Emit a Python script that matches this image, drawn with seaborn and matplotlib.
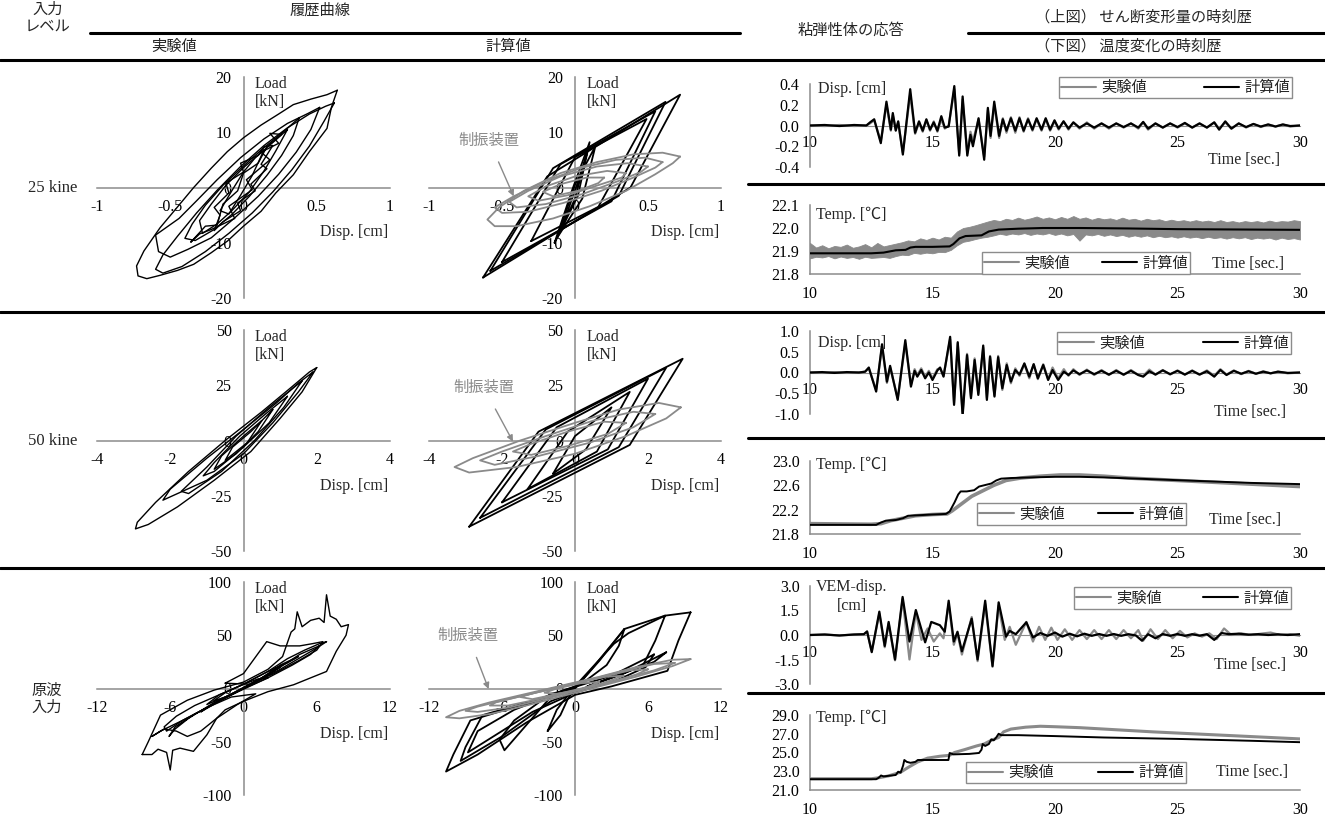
import numpy as np
import matplotlib.pyplot as plt
import seaborn as sns
from matplotlib.lines import Line2D

sns.set_theme(style="white")
plt.rcParams['font.family'] = ['Liberation Serif', 'Noto Sans CJK JP']
JP = ['Noto Sans CJK JP', 'DejaVu Sans']
GRAY = '#8a8a8a'
AX_GRAY = '#8c8c8c'
W, H = 1325, 819

# ---------------- data: hysteresis loops (disp [cm], load [kN]) ----------------
r1_exp_loops = [
    [[0.64, 17.6], [0.6, 14.5], [0.57, 10.7], [0.45, 6.5], [0.34, 2.3], [0.22, -1.0], [0.12, -4.3], [0.0, -7.0],
     [-0.11, -9.7], [-0.22, -11.8], [-0.34, -13.9], [-0.45, -15.0], [-0.57, -15.9], [-0.66, -16.5], [-0.72, -16.0],
     [-0.73, -14.2], [-0.68, -11.5], [-0.57, -7.3], [-0.45, -3.5], [-0.34, 0.0], [-0.22, 3.5], [-0.11, 6.5],
     [0.0, 9.0], [0.12, 11.3], [0.24, 13.3], [0.34, 15.0], [0.46, 16.0], [0.57, 16.8], [0.64, 17.6]],
    [[0.62, 15.3], [0.55, 12.0], [0.45, 7.5], [0.33, 3.2], [0.2, -0.8], [0.06, -4.6], [-0.1, -8.3], [-0.26, -11.6],
     [-0.42, -14.3], [-0.55, -15.5], [-0.6, -14.8], [-0.55, -12.2], [-0.45, -8.8], [-0.32, -4.6], [-0.18, -0.5],
     [-0.02, 3.8], [0.14, 7.6], [0.3, 10.8], [0.45, 13.3], [0.56, 14.7], [0.62, 15.3]],
    [[0.52, 14.5], [0.46, 10.5], [0.36, 6.4], [0.24, 2.4], [0.1, -1.6], [-0.06, -5.5], [-0.22, -9.1], [-0.38, -11.2],
     [-0.5, -12.6], [-0.58, -11.6], [-0.6, -8.6], [-0.44, -5.6], [-0.32, -2.4], [-0.18, 1.4], [-0.02, 5.4],
     [0.14, 8.8], [0.3, 11.6], [0.44, 13.4], [0.52, 14.5]],
    [[0.38, 12.6], [0.34, 9.4], [0.26, 5.8], [0.16, 2.2], [0.04, -1.6], [-0.08, -4.9], [-0.2, -7.6], [-0.33, -9.6],
     [-0.4, -9.2], [-0.35, -6.6], [-0.26, -3.2], [-0.14, 0.4], [0.0, 3.9], [0.13, 7.0], [0.26, 9.8], [0.38, 12.6]],
    [[0.3, 10.5], [0.22, 6.6], [0.14, 3.0], [0.04, -0.8], [-0.08, -4.2], [-0.18, -6.6], [-0.28, -8.3], [-0.3, -6.0],
     [-0.22, -3.0], [-0.12, 0.4], [0.0, 3.6], [0.12, 6.3], [0.22, 8.6], [0.3, 10.5]],
    [[0.2, 7.6], [0.12, 4.2], [0.16, 3.4], [0.05, 0.6], [0.08, -0.6], [-0.04, -2.8], [-0.02, -4.2], [-0.14, -6.2],
     [-0.2, -7.8], [-0.16, -5.0], [-0.2, -3.6], [-0.1, -1.0], [-0.12, 0.8], [0.0, 2.8], [-0.02, 4.4], [0.1, 5.8],
     [0.14, 7.4], [0.2, 7.6]],
    [[0.14, 6.8], [0.06, 2.2], [-0.02, -1.4], [-0.1, -4.8], [-0.16, -4.2], [-0.08, -0.6], [0.0, 2.8], [0.08, 5.4],
     [0.14, 6.8]],
    [[0.26, 9.6], [0.18, 9.8], [0.24, 8.0], [0.12, 6.4], [0.18, 5.0], [0.02, 1.4], [0.06, -0.4], [-0.1, -3.4],
     [-0.06, -5.6], [-0.22, -7.6], [-0.3, -8.4], [-0.36, -9.9], [-0.26, -7.0], [-0.18, -6.8], [-0.14, -3.0],
     [-0.04, -0.6], [0.0, 2.6], [0.1, 4.4], [0.16, 7.4], [0.26, 9.6]],
]
r1_calc_frame = [
    [[-0.63, -16.3], [-0.19, 2.0], [0.72, 16.8], [0.38, 0.0], [-0.63, -16.3]],
    [[-0.58, -15.1], [-0.15, 3.5], [0.62, 15.5], [0.3, -1.5], [-0.58, -15.1]],
    [[-0.5, -13.5], [-0.1, 4.2], [0.55, 13.8], [0.25, -2.5], [-0.5, -13.5]],
    [[-0.3, -9.7], [0.0, 5.5], [0.49, 12.4], [0.16, -3.5], [-0.3, -9.7]],
    [[-0.14, -10.0], [-0.02, -0.5], [0.1, 8.2], [0.02, -1.5], [-0.14, -10.0]],
    [[-0.12, -9.0], [0.0, 0.5], [0.14, 7.5], [0.05, -2.0], [-0.12, -9.0]],
    [[-0.1, -8.0], [0.02, 1.0], [0.08, 6.0], [0.0, -2.0], [-0.1, -8.0]],
]
r1_calc_damper = [
    [[0.72, 5.6], [0.6, 6.3], [0.4, 6.0], [0.15, 4.6], [-0.1, 2.6], [-0.35, -0.6], [-0.52, -3.6], [-0.6, -5.8],
     [-0.55, -7.0], [-0.4, -7.0], [-0.15, -5.6], [0.1, -3.4], [0.35, -0.6], [0.55, 2.4], [0.67, 4.4], [0.72, 5.6]],
    [[0.6, 4.6], [0.48, 5.4], [0.28, 5.0], [0.05, 3.6], [-0.2, 1.2], [-0.42, -1.6], [-0.55, -3.6], [-0.5, -4.6],
     [-0.32, -4.4], [-0.08, -2.8], [0.18, -0.6], [0.4, 1.8], [0.55, 3.6], [0.6, 4.6]],
    [[0.5, 3.8], [0.36, 4.4], [0.15, 3.8], [-0.1, 2.0], [-0.32, -0.6], [-0.45, -2.6], [-0.4, -3.6], [-0.2, -3.0],
     [0.05, -1.2], [0.3, 1.2], [0.45, 2.8], [0.5, 3.8]],
    [[0.35, 2.6], [0.22, 3.0], [0.0, 2.0], [-0.2, 0.2], [-0.32, -1.6], [-0.25, -2.4], [-0.05, -1.4], [0.18, 0.6],
     [0.32, 1.8], [0.35, 2.6]],
    [[0.2, 1.8], [0.08, 1.8], [-0.1, 0.6], [-0.22, -0.8], [-0.15, -1.6], [0.02, -0.6], [0.16, 0.8], [0.2, 1.8]],
]

r2_exp_loops = [
    [[2.0, 33], [1.6, 22], [1.0, 10], [0.2, -5], [-0.8, -18], [-1.8, -30], [-2.6, -38], [-2.95, -40], [-2.9, -37],
     [-2.4, -28], [-1.5, -14], [-0.5, 0], [0.5, 13], [1.3, 24], [1.8, 31], [2.0, 33]],
    [[1.9, 31], [1.5, 22], [0.8, 8], [0.0, -6], [-1.0, -18], [-1.8, -24], [-2.2, -27], [-2.0, -22], [-1.0, -8],
     [0.0, 5], [0.9, 17], [1.5, 26], [1.9, 31]],
    [[1.6, 27], [1.1, 15], [0.3, 0], [-0.6, -14], [-1.5, -24], [-1.7, -23], [-1.0, -12], [-0.2, 2], [0.7, 15],
     [1.3, 23], [1.6, 27]],
    [[1.2, 20], [0.7, 8], [0.0, -3], [-0.8, -14], [-1.1, -16], [-0.8, -10], [-0.1, 2], [0.6, 12], [1.2, 20]],
    [[0.8, 14], [0.4, 4], [-0.2, -6], [-0.8, -13], [-0.6, -7], [0.0, 2], [0.5, 9], [0.8, 14]],
    [[0.5, 9], [0.1, -1], [-0.5, -9], [-0.3, -3], [0.2, 4], [0.5, 9]],
]
r2_calc_frame = [
    [[-2.9, -39], [-1.0, 4], [2.95, 37], [1.5, -2], [-2.9, -39]],
    [[-2.6, -35], [-0.8, 5], [2.5, 33], [1.2, -3], [-2.6, -35]],
    [[-2.0, -28], [-0.5, 6], [2.0, 28], [0.9, -4], [-2.0, -28]],
    [[-1.3, -22], [-0.2, 4], [1.5, 22], [0.6, -5], [-1.3, -22]],
    [[-0.6, -15], [0.0, 2], [1.0, 15], [0.3, -4], [-0.6, -15]],
]
r2_calc_damper = [
    [[2.9, 15], [2.3, 17], [1.2, 14], [0.0, 8], [-1.5, 0], [-2.8, -8], [-3.3, -12], [-2.9, -14.5], [-1.6, -12],
     [0.0, -6], [1.4, 2], [2.5, 10], [2.9, 15]],
    [[2.2, 12], [1.6, 13], [0.5, 9], [-0.8, 2], [-2.0, -5], [-2.6, -9], [-2.2, -11], [-1.0, -7], [0.4, -1],
     [1.6, 6], [2.2, 12]],
    [[1.4, 8], [0.8, 8.5], [-0.2, 4], [-1.2, -1.5], [-1.7, -5], [-1.2, -6.5], [-0.2, -2.5], [0.9, 3], [1.4, 8]],
]

r3_exp_loops = [
    [[-8.3, -62], [-7.8, -50], [-6.8, -25], [-4.6, -11], [-2.4, -1.5], [0.0, 6], [2.0, 18], [3.2, 30], [3.9, 53],
     [4.2, 56], [4.4, 72], [4.8, 58], [5.5, 64], [6.2, 66], [6.6, 62], [6.8, 88], [7.1, 68], [7.6, 65], [8.0, 58],
     [8.6, 60], [8.4, 50], [7.6, 35], [6.8, 16], [5.5, 10], [4.1, 3.5], [2.0, -3], [0.0, -12], [-1.5, -20],
     [-2.2, -28], [-3.0, -43.5], [-4.1, -59], [-5.2, -56], [-5.8, -58], [-6.0, -76.5], [-6.3, -60], [-7.0, -57],
     [-7.5, -62], [-8.3, -62]],
    [[6.8, 44], [6.0, 38], [4.5, 28], [3.0, 18], [1.0, 6], [-1.0, -6], [-3.0, -18], [-5.0, -30], [-6.3, -40],
     [-6.5, -36], [-5.5, -26], [-4.0, -16], [-2.0, -6], [0.0, 4], [2.0, 16], [3.6, 28], [5.0, 36], [6.2, 42],
     [6.8, 44]],
    [[6.2, 40], [5.5, 32], [4.0, 22], [2.0, 10], [0.0, 0], [-2.0, -12], [-4.0, -24], [-5.6, -36], [-6.1, -45],
     [-5.6, -38], [-4.5, -28], [-2.8, -16], [-0.8, -4], [1.2, 8], [3.0, 20], [4.6, 32], [6.2, 40]],
    [[-1.5, 5], [0.0, 14], [1.9, 44], [3.0, 40], [4.6, 40], [5.6, 42], [6.5, 44], [6.0, 36], [4.5, 26], [2.5, 14],
     [0.5, 4], [-1.5, 5]],
    [[-7.5, -45], [-6.5, -38], [-5.5, -40], [-4.6, -45], [-3.5, -40], [-2.2, -28], [-0.5, -15], [1.0, -5],
     [-1.0, -8], [-3.0, -18], [-5.0, -30], [-6.8, -40], [-7.5, -45]],
    [[3.0, 20], [1.5, 10], [0.0, 0], [-2.0, -12], [-3.5, -22], [-2.5, -14], [-0.8, -4], [0.8, 6], [2.2, 14], [3.0, 20]],
    [[4.5, 30], [3.0, 22], [1.0, 6], [-1.5, -8], [-3.0, -15], [-2.0, -6], [0.0, 4], [2.0, 16], [3.6, 24], [4.5, 30]],
    [[2.0, 10], [0.5, 2], [-1.0, -6], [-2.5, -12], [-1.5, -4], [0.0, 4], [1.2, 9], [2.0, 10]],
]
r3_calc_frame = [
    [[9.5, 71.5], [8.5, 45], [7.6, 16.6], [3.0, 2.0], [0.0, -6.0], [-4.0, -32], [-8.0, -62], [-10.6, -78],
     [-10.0, -62], [-8.6, -30], [-4.0, -14], [0.0, 0.0], [2.0, 26], [4.06, 55.9], [7.4, 68.4], [9.5, 71.5]],
    [[7.4, 68.4], [6.6, 45], [5.6, 22], [2.0, 6], [-2.0, -12], [-6.0, -45], [-9.4, -68], [-9.0, -55], [-7.6, -25],
     [-3.0, -10], [0.0, 2], [3.2, 42], [4.4, 52], [7.4, 68.4]],
    [[4.06, 55.9], [3.6, 40], [2.6, 22], [0.5, 4], [-2.0, -8], [-5.8, -58], [-6.2, -48], [-5.0, -30], [-2.0, -5],
     [0.0, 0], [1.5, 20], [4.06, 55.9]],
    [[6.5, 32], [5.8, 20], [3.5, 8], [0.0, -4], [-3.5, -22], [-8.8, -60], [-8.0, -40], [-5.0, -20], [-1.0, -2],
     [3.0, 12], [6.5, 32]],
    [[-2.25, -40], [-1.5, -20], [-0.5, -5], [0.0, 0], [-0.6, -10], [-1.2, -25], [-2.25, -40]],
    [[7.5, 34], [6.5, 25], [3.0, 10], [1.0, 2], [4.0, 14], [7.5, 34]],
]
r3_calc_damper = [
    [[9.5, 27.6], [8.0, 27], [5.0, 20], [2.0, 11], [-1.0, 3], [-4.0, -5], [-7.0, -13], [-9.5, -21], [-10.6, -27],
     [-9.5, -28], [-7.0, -24], [-4.0, -16], [-1.0, -7], [2.0, 2], [5.0, 11], [8.0, 21], [9.5, 27.6]],
    [[8.2, 24], [6.5, 23], [3.5, 15], [0.5, 6], [-2.5, -2], [-5.5, -10], [-8.0, -17], [-9.0, -21], [-8.0, -22],
     [-5.5, -18], [-2.5, -10], [0.5, -1], [3.5, 8], [6.5, 17], [8.2, 24]],
    [[6.0, 18], [4.5, 17], [2.0, 10], [-1.0, 2], [-4.0, -6], [-6.5, -13], [-7.0, -16], [-5.5, -16], [-3.0, -10],
     [0.0, -2], [3.0, 6], [5.0, 13], [6.0, 18]],
    [[4.0, 12], [2.5, 11], [0.0, 5], [-3.0, -3], [-4.5, -8], [-3.5, -10], [-1.0, -4], [2.0, 4], [4.0, 12]],
    [[2.0, 6], [0.5, 5], [-1.5, 0], [-2.5, -4], [-1.5, -5], [0.5, -1], [2.0, 6]],
]

# ---------------- data: time histories [time s, value] ----------------
r1_disp_calc = np.array([
    [10.0, 0.0], [10.6, 0.005], [11.2, -0.005], [11.8, 0.005], [12.3, 0.0], [12.45, 0.03], [12.62, 0.06],
    [12.89, -0.17], [13.12, 0.23], [13.3, -0.04], [13.38, 0.12], [13.5, -0.05], [13.6, 0.04], [13.79, -0.28],
    [14.09, 0.35], [14.29, -0.07], [14.45, 0.04], [14.6, -0.05], [14.75, 0.06], [14.9, -0.04], [15.05, 0.03],
    [15.2, -0.05], [15.36, 0.09], [15.5, -0.02], [15.66, -0.01], [15.89, 0.38], [16.09, -0.29], [16.23, 0.28],
    [16.42, -0.29], [16.55, -0.09], [16.65, -0.2], [16.88, 0.07], [17.11, -0.33], [17.26, 0.17], [17.37, -0.1],
    [17.52, 0.23], [17.72, -0.1], [17.87, 0.06], [18.02, -0.05], [18.2, 0.07], [18.38, -0.05], [18.55, 0.07],
    [18.72, -0.05], [18.9, 0.06], [19.08, -0.04], [19.25, 0.07], [19.45, -0.04], [19.62, 0.07], [19.8, -0.04],
    [19.98, 0.05], [20.15, -0.03], [20.35, 0.04], [20.55, -0.03], [20.75, 0.03], [21.0, -0.02], [21.3, 0.02],
    [21.6, -0.02], [21.9, 0.02], [22.2, -0.02], [22.5, 0.02], [22.8, -0.015], [23.1, 0.02], [23.4, -0.02],
    [23.6, 0.035], [23.8, -0.03], [24.1, 0.02], [24.4, -0.02], [24.7, 0.02], [25.0, -0.015], [25.3, 0.025],
    [25.6, -0.02], [25.9, 0.02], [26.2, -0.02], [26.5, 0.03], [26.7, -0.04], [26.95, 0.04], [27.2, -0.03],
    [27.5, 0.02], [27.8, -0.015], [28.1, 0.015], [28.4, -0.01], [28.7, 0.01], [29.0, -0.01], [29.3, 0.01],
    [29.6, -0.005], [30.0, 0.0]])
r1_disp_exp = np.array([
    [10.0, 0.0], [10.6, -0.005], [11.2, 0.005], [11.8, -0.005], [12.3, 0.0], [12.45, 0.02], [12.62, 0.05],
    [12.89, -0.15], [13.12, 0.2], [13.3, -0.05], [13.38, 0.1], [13.5, -0.04], [13.6, 0.03], [13.79, -0.26],
    [14.09, 0.3], [14.29, -0.08], [14.45, 0.03], [14.6, -0.06], [14.75, 0.05], [14.9, -0.05], [15.05, 0.04],
    [15.2, -0.06], [15.36, 0.06], [15.5, -0.03], [15.66, 0.0], [15.89, 0.35], [16.09, -0.27], [16.23, 0.25],
    [16.42, -0.27], [16.55, -0.06], [16.65, -0.15], [16.88, 0.06], [17.11, -0.3], [17.26, 0.15], [17.37, -0.12],
    [17.52, 0.2], [17.72, -0.12], [17.87, 0.07], [18.02, -0.07], [18.2, 0.08], [18.38, -0.07], [18.55, 0.08],
    [18.72, -0.06], [18.9, 0.07], [19.08, -0.05], [19.25, 0.06], [19.45, -0.05], [19.62, 0.06], [19.8, -0.05],
    [19.98, 0.04], [20.15, -0.04], [20.35, 0.04], [20.55, -0.04], [20.75, 0.03], [21.0, -0.03], [21.3, 0.03],
    [21.6, -0.03], [21.9, 0.02], [22.2, -0.03], [22.5, 0.02], [22.8, -0.02], [23.1, 0.02], [23.4, -0.03],
    [23.6, 0.03], [23.8, -0.04], [24.1, 0.02], [24.4, -0.02], [24.7, 0.02], [25.0, -0.02], [25.3, 0.02],
    [25.6, -0.02], [25.9, 0.02], [26.2, -0.02], [26.5, 0.03], [26.7, -0.03], [26.95, 0.03], [27.2, -0.03],
    [27.5, 0.02], [27.8, -0.02], [28.1, 0.015], [28.4, -0.015], [28.7, 0.01], [29.0, -0.01], [29.3, 0.01],
    [29.6, -0.01], [30.0, 0.0]])
r1_temp_calc = np.array([
    [10.0, 21.89], [12.5, 21.89], [13.0, 21.893], [13.5, 21.903], [13.9, 21.905], [14.1, 21.915], [14.3, 21.918],
    [15.0, 21.918], [15.7, 21.92], [15.85, 21.93], [16.1, 21.955], [16.35, 21.965], [17.0, 21.968], [17.3, 21.985],
    [17.7, 21.993], [18.5, 21.997], [19.5, 22.0], [21.0, 22.0], [23.0, 21.998], [25.0, 21.995], [30.0, 21.992]])
# experimental temperature is a noisy record: [time, lower, upper] envelope of the noise
r1_temp_exp_band = np.array([
    [10.0, 21.868, 21.935], [10.25, 21.875, 21.915], [10.5, 21.872, 21.925], [10.75, 21.878, 21.912],
    [11.0, 21.868, 21.922], [11.25, 21.876, 21.918], [11.5, 21.87, 21.928], [11.75, 21.874, 21.914],
    [12.0, 21.866, 21.92], [12.25, 21.875, 21.93], [12.5, 21.87, 21.916], [12.75, 21.872, 21.935],
    [13.0, 21.874, 21.92], [13.25, 21.87, 21.926], [13.5, 21.878, 21.932], [13.75, 21.884, 21.938],
    [14.0, 21.882, 21.946], [14.25, 21.892, 21.942], [14.5, 21.888, 21.955], [14.75, 21.893, 21.948],
    [15.0, 21.89, 21.958], [15.25, 21.896, 21.95], [15.5, 21.895, 21.962], [15.75, 21.905, 21.958],
    [16.0, 21.925, 21.985], [16.25, 21.94, 22.0], [16.5, 21.945, 22.005], [16.75, 21.952, 22.012],
    [17.0, 21.958, 22.02], [17.25, 21.962, 22.028], [17.5, 21.968, 22.035], [17.75, 21.975, 22.03],
    [18.0, 21.97, 22.04], [18.25, 21.976, 22.035], [18.5, 21.972, 22.045], [18.75, 21.978, 22.036],
    [19.0, 21.97, 22.042], [19.25, 21.976, 22.05], [19.5, 21.972, 22.04], [19.75, 21.978, 22.046],
    [20.0, 21.97, 22.038], [20.25, 21.976, 22.048], [20.5, 21.968, 22.04], [20.75, 21.974, 22.052],
    [21.0, 21.945, 22.04], [21.25, 21.972, 22.046], [21.5, 21.968, 22.036], [21.75, 21.974, 22.044],
    [22.0, 21.966, 22.038], [22.25, 21.972, 22.042], [22.5, 21.965, 22.035], [22.75, 21.97, 22.045],
    [23.0, 21.962, 22.036], [23.25, 21.968, 22.04], [23.5, 21.962, 22.032], [23.75, 21.968, 22.04],
    [24.0, 21.96, 22.034], [24.25, 21.966, 22.038], [24.5, 21.96, 22.03], [24.75, 21.964, 22.036],
    [25.0, 21.958, 22.03], [25.25, 21.964, 22.034], [25.5, 21.958, 22.028], [25.75, 21.962, 22.034],
    [26.0, 21.956, 22.028], [26.25, 21.962, 22.032], [26.5, 21.956, 22.026], [26.75, 21.96, 22.034],
    [27.0, 21.954, 22.026], [27.25, 21.96, 22.03], [27.5, 21.955, 22.024], [27.75, 21.96, 22.03],
    [28.0, 21.952, 22.026], [28.25, 21.958, 22.03], [28.5, 21.954, 22.024], [28.75, 21.958, 22.032],
    [29.0, 21.95, 22.026], [29.25, 21.958, 22.03], [29.5, 21.952, 22.028], [29.75, 21.956, 22.034],
    [30.0, 21.95, 22.03]])

r2_disp_calc = np.array([
    [10.0, 0.0], [10.5, 0.01], [11.0, -0.01], [11.5, 0.01], [12.0, 0.0], [12.25, 0.02], [12.4, 0.12], [12.7, -0.46],
    [12.94, 0.68], [13.14, -0.22], [13.27, 0.16], [13.58, -0.66], [13.89, 0.78], [14.12, -0.34], [14.27, 0.04],
    [14.38, -0.1], [14.54, 0.06], [14.7, -0.14], [14.85, 0.0], [15.0, -0.18], [15.2, 0.05], [15.31, 0.12],
    [15.45, -0.1], [15.72, 0.86], [15.88, -0.78], [16.03, 0.73], [16.23, -1.04], [16.41, 0.42], [16.57, -0.62],
    [16.72, 0.3], [16.87, -0.54], [17.07, 0.65], [17.22, -0.66], [17.35, 0.38], [17.53, -0.58], [17.68, 0.37],
    [17.85, -0.38], [18.03, 0.18], [18.2, -0.22], [18.38, 0.06], [18.55, -0.05], [18.75, 0.22], [18.95, -0.1],
    [19.13, 0.2], [19.3, -0.14], [19.52, 0.18], [19.72, -0.18], [19.9, 0.06], [20.13, -0.18], [20.36, 0.02],
    [20.55, -0.06], [20.75, 0.05], [21.0, -0.04], [21.3, 0.05], [21.6, -0.04], [21.9, 0.04], [22.2, -0.05],
    [22.5, 0.04], [22.8, -0.05], [23.1, 0.04], [23.4, -0.06], [23.6, -0.1], [23.85, 0.03], [24.1, -0.05],
    [24.4, 0.05], [24.7, -0.04], [25.0, 0.04], [25.3, -0.05], [25.6, 0.04], [25.9, -0.05], [26.2, 0.03],
    [26.5, -0.1], [26.75, 0.06], [27.0, -0.06], [27.3, 0.04], [27.6, -0.03], [27.9, 0.03], [28.2, -0.03],
    [28.5, 0.02], [28.8, -0.02], [29.1, 0.02], [29.5, -0.01], [30.0, 0.0]])
r2_disp_exp = np.array([
    [10.0, 0.0], [10.5, -0.01], [11.0, 0.01], [11.5, -0.01], [12.0, 0.0], [12.25, 0.02], [12.4, 0.1], [12.7, -0.42],
    [12.94, 0.62], [13.14, -0.25], [13.27, 0.12], [13.58, -0.62], [13.89, 0.7], [14.12, -0.3], [14.27, 0.08],
    [14.38, -0.06], [14.54, 0.1], [14.7, -0.1], [14.85, 0.04], [15.0, -0.14], [15.2, 0.08], [15.31, 0.1],
    [15.45, -0.08], [15.72, 0.8], [15.88, -0.74], [16.03, 0.7], [16.23, -0.98], [16.41, 0.45], [16.57, -0.58],
    [16.72, 0.34], [16.87, -0.5], [17.07, 0.6], [17.22, -0.62], [17.35, 0.4], [17.53, -0.55], [17.68, 0.4],
    [17.85, -0.42], [18.03, 0.22], [18.2, -0.26], [18.38, 0.1], [18.55, -0.08], [18.75, 0.2], [18.95, -0.14],
    [19.13, 0.2], [19.3, -0.16], [19.52, 0.2], [19.72, -0.16], [19.9, 0.12], [20.13, -0.14], [20.36, 0.08],
    [20.55, -0.08], [20.75, 0.08], [21.0, -0.06], [21.3, 0.07], [21.6, -0.06], [21.9, 0.06], [22.2, -0.06],
    [22.5, 0.06], [22.8, -0.06], [23.1, 0.06], [23.4, -0.06], [23.6, -0.08], [23.85, 0.07], [24.1, -0.05],
    [24.4, 0.06], [24.7, -0.05], [25.0, 0.05], [25.3, -0.05], [25.6, 0.05], [25.9, -0.05], [26.2, 0.05],
    [26.5, -0.08], [26.75, 0.08], [27.0, -0.05], [27.3, 0.05], [27.6, -0.04], [27.9, 0.04], [28.2, -0.03],
    [28.5, 0.03], [28.8, -0.02], [29.1, 0.02], [29.5, -0.02], [30.0, 0.0]])
r2_temp_calc = np.array([
    [10.0, 21.95], [12.7, 21.95], [12.9, 21.99], [13.1, 22.02], [13.5, 22.03], [13.8, 22.06], [14.0, 22.1],
    [14.5, 22.11], [15.0, 22.12], [15.55, 22.13], [15.7, 22.17], [15.9, 22.32], [16.05, 22.45], [16.15, 22.5],
    [16.4, 22.5], [16.7, 22.52], [16.9, 22.58], [17.1, 22.6], [17.4, 22.63], [17.6, 22.68], [17.8, 22.71],
    [18.2, 22.72], [19.0, 22.73], [20.0, 22.74], [21.0, 22.74], [22.0, 22.73], [24.0, 22.7], [26.0, 22.67],
    [28.0, 22.64], [30.0, 22.62]])
r2_temp_exp = np.array([
    [10.0, 21.97], [12.5, 21.96], [12.9, 21.97], [13.3, 22.02], [13.8, 22.06], [14.3, 22.1], [15.0, 22.12],
    [15.6, 22.13], [15.8, 22.18], [16.2, 22.3], [16.6, 22.42], [17.0, 22.5], [17.5, 22.6], [18.0, 22.68],
    [18.6, 22.72], [19.4, 22.75], [20.2, 22.77], [21.0, 22.77], [22.0, 22.75], [23.0, 22.72], [24.0, 22.7],
    [25.0, 22.68], [26.0, 22.66], [27.0, 22.64], [28.0, 22.62], [29.0, 22.6], [30.0, 22.58]])

r3_disp_calc = np.array([
    [10.0, 0.0], [10.6, 0.03], [11.2, -0.03], [11.8, 0.03], [12.2, 0.05], [12.33, 0.22], [12.52, -1.05],
    [12.83, 1.43], [13.05, -0.67], [13.21, 0.8], [13.47, -1.5], [13.78, 2.33], [14.06, -0.4], [14.32, 1.53],
    [14.7, -0.45], [14.95, 0.8], [15.3, 0.6], [15.5, 0.2], [15.66, 2.1], [15.87, -0.4], [16.02, 0.2], [16.2, -1.0],
    [16.6, 1.0], [16.84, -1.5], [17.15, 2.1], [17.45, -1.9], [17.7, 2.0], [18.0, -0.1], [18.15, 0.25], [18.4, 0.05],
    [18.83, 0.78], [19.1, -0.15], [19.4, 0.12], [19.7, -0.05], [20.0, 0.15], [20.3, -0.1], [20.6, 0.08],
    [20.9, -0.08], [21.2, 0.08], [21.5, -0.05], [21.8, 0.06], [22.1, -0.05], [22.4, 0.06], [22.7, -0.05],
    [23.0, 0.05], [23.3, -0.03], [23.55, -0.35], [23.8, 0.05], [24.1, -0.2], [24.4, 0.06], [24.7, -0.05],
    [25.0, 0.06], [25.3, -0.05], [25.6, 0.05], [25.9, -0.04], [26.2, 0.05], [26.5, -0.3], [26.8, 0.12],
    [27.1, 0.05], [27.5, 0.08], [27.9, 0.02], [28.3, 0.05], [28.7, 0.0], [29.1, 0.04], [29.5, 0.0], [30.0, 0.05]])
r3_disp_exp = np.array([
    [10.0, 0.0], [10.6, 0.03], [11.2, -0.03], [11.8, 0.03], [12.2, 0.05], [12.33, 0.2], [12.52, -1.0], [12.83, 1.3],
    [13.05, -0.75], [13.21, 0.7], [13.47, -1.55], [13.78, 2.2], [14.06, -1.5], [14.32, 1.4], [14.55, -0.3],
    [14.8, 0.4], [15.05, -0.4], [15.3, 0.1], [15.45, -0.2], [15.66, 1.9], [15.87, -0.6], [16.02, 0.1], [16.2, -1.2],
    [16.6, 1.1], [16.84, -1.6], [17.15, 1.9], [17.45, -1.95], [17.7, 1.8], [17.95, -0.3], [18.15, 0.5],
    [18.4, -0.6], [18.83, 0.8], [19.1, -0.4], [19.35, 0.5], [19.6, -0.3], [19.85, 0.45], [20.1, -0.3], [20.4, 0.35],
    [20.7, -0.3], [21.0, 0.3], [21.3, -0.25], [21.6, 0.3], [21.9, -0.25], [22.2, 0.3], [22.5, -0.25], [22.8, 0.3],
    [23.1, -0.2], [23.4, 0.3], [23.6, -0.35], [23.9, 0.35], [24.2, -0.25], [24.5, 0.3], [24.8, -0.2], [25.1, 0.25],
    [25.4, -0.15], [25.7, 0.1], [26.0, -0.1], [26.3, 0.1], [26.6, -0.25], [26.9, 0.4], [27.2, 0.0], [27.6, 0.1],
    [28.0, 0.0], [28.5, 0.1], [28.8, 0.15], [29.2, 0.0], [29.6, 0.05], [30.0, -0.05]])
r3_temp_calc = np.array([
    [10.0, 22.15], [12.7, 22.15], [12.8, 22.3], [12.9, 22.55], [13.0, 22.45], [13.5, 22.6], [13.6, 22.95],
    [13.7, 22.85], [13.8, 23.6], [13.85, 24.2], [13.95, 24.0], [14.1, 23.9], [14.3, 24.0], [14.4, 24.2],
    [15.0, 24.2], [15.65, 24.2], [15.7, 24.95], [15.85, 24.8], [16.5, 24.85], [16.9, 24.95], [17.0, 25.3],
    [17.05, 25.9], [17.15, 25.7], [17.3, 25.9], [17.4, 26.4], [17.5, 26.3], [17.6, 26.6], [17.7, 27.0],
    [17.8, 26.85], [18.5, 26.85], [20.0, 26.75], [22.0, 26.6], [25.0, 26.45], [28.0, 26.25], [30.0, 26.1]])
r3_temp_exp = np.array([
    [10.0, 22.2], [12.5, 22.2], [12.8, 22.3], [13.2, 22.5], [13.7, 22.9], [14.0, 23.4], [14.4, 24.0], [14.8, 24.4],
    [15.3, 24.6], [15.7, 24.7], [15.9, 25.0], [16.3, 25.3], [16.8, 25.7], [17.1, 25.9], [17.4, 26.3], [17.7, 26.6],
    [17.9, 27.2], [18.2, 27.5], [18.8, 27.7], [19.4, 27.8], [20.0, 27.75], [21.0, 27.65], [22.0, 27.5],
    [24.0, 27.2], [26.0, 26.95], [28.0, 26.7], [30.0, 26.45]])

# ---------------- ticks and labels ----------------
time_ticks = [10, 15, 20, 25, 30]
time_labels = ['10', '15', '20', '25', '30']
legend_labels = ['実験値', '計算値']
hyst_x = {1: ([-1, -0.5, 0, 0.5, 1], ['-1', '-0.5', '0', '0.5', '1']),
          2: ([-4, -2, 0, 2, 4], ['-4', '-2', '0', '2', '4']),
          3: ([-12, -6, 0, 6, 12], ['-12', '-6', '0', '6', '12'])}
hyst_y = {1: ([-20, -10, 0, 10, 20], ['-20', '-10', '0', '10', '20']),
          2: ([-50, -25, 0, 25, 50], ['-50', '-25', '0', '25', '50']),
          3: ([-100, -50, 0, 50, 100], ['-100', '-50', '0', '50', '100'])}
disp_y = {1: ([-0.4, -0.2, 0, 0.2, 0.4], ['-0.4', '-0.2', '0.0', '0.2', '0.4']),
          2: ([-1.0, -0.5, 0, 0.5, 1.0], ['-1.0', '-0.5', '0.0', '0.5', '1.0']),
          3: ([-3.0, -1.5, 0, 1.5, 3.0], ['-3.0', '-1.5', '0.0', '1.5', '3.0'])}
temp_y = {1: ([21.8, 21.9, 22.0, 22.1], ['21.8', '21.9', '22.0', '22.1']),
          2: ([21.8, 22.2, 22.6, 23.0], ['21.8', '22.2', '22.6', '23.0']),
          3: ([21.0, 23.0, 25.0, 27.0, 29.0], ['21.0', '23.0', '25.0', '27.0', '29.0'])}

fig = plt.figure(figsize=(13.25, 8.19), dpi=100)


def px_axes(left, right, top, bottom):
    return fig.add_axes([left / W, 1 - bottom / H, (right - left) / W, (bottom - top) / H])


def ftext(x, y, s, **kw):
    kw.setdefault('ha', 'center')
    kw.setdefault('va', 'center')
    fig.text(x / W, 1 - y / H, s, **kw)


def hline(y, x0, x1, lw=2.2):
    fig.add_artist(Line2D([x0 / W, x1 / W], [1 - y / H, 1 - y / H], color='black', lw=lw,
                          transform=fig.transFigure))


def style_axes(ax):
    ax.patch.set_visible(False)
    ax.grid(False)
    ax.spines[['top', 'right']].set_visible(False)
    for s in ['left', 'bottom']:
        ax.spines[s].set_color(AX_GRAY)
        ax.spines[s].set_linewidth(1.1)


def hyst_axes(left, right, top, bottom, row):
    ax = px_axes(left, right, top, bottom)
    xt, xl = hyst_x[row]
    yt, yl = hyst_y[row]
    ax.set_xlim(xt[0], xt[-1])
    ax.set_ylim(yt[0], yt[-1])
    style_axes(ax)
    ax.spines['left'].set_position(('data', 0))
    ax.spines['bottom'].set_position(('data', 0))
    ax.set_xticks(xt, xl)
    ax.set_yticks(yt, yl)
    ax.tick_params(direction='inout', length=7, width=1, color=AX_GRAY, labelsize=11.5,
                   labelcolor='black', pad=5)
    return ax


def draw_loops(ax, loops, color, lw):
    for lp in loops:
        lp = np.asarray(lp, dtype=float)
        sns.lineplot(x=lp[:, 0], y=lp[:, 1], sort=False, estimator=None, color=color, lw=lw,
                     ax=ax, zorder=4)


def hyst_labels(ax_left, ax_right, top, axis_y):
    ftext(ax_left + 12, top + 7, 'Load', ha='left', size=11.5)
    ftext(ax_left + 12, top + 25, '[kN]', ha='left', size=11.5)
    ftext(ax_right - 2, axis_y + 46, 'Disp. [cm]', ha='right', size=11.5)


def time_axes(top, bottom, ylim_ticks, zero_axis):
    ax = px_axes(810, 1300, top, bottom)
    yt, yl = ylim_ticks
    ax.set_xlim(10, 30)
    ax.set_ylim(yt[0], yt[-1])
    style_axes(ax)
    ax.set_xticks(time_ticks, time_labels)
    ax.set_yticks(yt, yl)
    ax.tick_params(axis='y', direction='inout', length=7, width=1, color=AX_GRAY, labelsize=11.5,
                   labelcolor='black', pad=4)
    if zero_axis:
        ax.spines['bottom'].set_position(('data', 0))
        ax.spines['bottom'].set_linewidth(0.8)
        ax.tick_params(axis='x', length=0, labelsize=11.5, labelcolor='black', pad=7)
    else:
        ax.tick_params(axis='x', direction='inout', length=7, width=1, color=AX_GRAY, labelsize=11.5,
                       labelcolor='black', pad=5)
    return ax


def add_legend(ax, x0, x1, y0, y1):
    handles = [Line2D([], [], color=GRAY, lw=1.5), Line2D([], [], color='black', lw=1.5)]
    leg = ax.legend(handles, legend_labels, loc='center', mode='expand', ncol=2,
                    bbox_to_anchor=(x0 / W, 1 - y1 / H, (x1 - x0) / W, (y1 - y0) / H),
                    bbox_transform=fig.transFigure, frameon=True, fancybox=False, framealpha=1,
                    edgecolor=AX_GRAY, prop={'family': JP, 'size': 11}, borderpad=0.15,
                    handlelength=2.3, handletextpad=0.3, borderaxespad=0)
    leg.get_frame().set_linewidth(1.0)
    leg.set_zorder(10)


def series(ax, arr, color, lw):
    sns.lineplot(x=arr[:, 0], y=arr[:, 1], sort=False, estimator=None, color=color, lw=lw, ax=ax, zorder=4)


# ---------------- header ----------------
ftext(48, 9, '入力', family=JP, size=11)
ftext(48, 26, 'レベル', family=JP, size=11)
ftext(320, 10, '履歴曲線', family=JP, size=11)
ftext(174, 46, '実験値', family=JP, size=11)
ftext(508, 46, '計算値', family=JP, size=11)
ftext(851, 30, '粘弾性体の応答', family=JP, size=11)
ftext(1035, 17, '（上図） せん断変形量の時刻歴', ha='left', family=JP, size=11)
ftext(1035, 46, '（下図） 温度変化の時刻歴', ha='left', family=JP, size=11)
hline(33, 90, 740)
hline(33, 968, 1325)
hline(60, 0, 1325)
hline(184, 748, 1325)
hline(312, 0, 1325)
hline(438, 748, 1325)
hline(568, 0, 1325)
hline(693, 748, 1325)

ftext(53, 188, '25 kine', size=12)
ftext(53, 441, '50 kine', size=12)
ftext(47, 690, '原波', family=JP, size=11)
ftext(47, 707, '入力', family=JP, size=11)

# ---------------- hysteresis panels ----------------
rows = [(1, 77, 298, 186), (2, 330, 551, 440), (3, 582, 795, 688)]
exp_sets = {1: r1_exp_loops, 2: r2_exp_loops, 3: r3_exp_loops}
calc_sets = {1: (r1_calc_frame, r1_calc_damper), 2: (r2_calc_frame, r2_calc_damper),
             3: (r3_calc_frame, r3_calc_damper)}
arrows = {1: ((-0.59, 8.6), (-0.42, -1.6)), 2: ((-2.5, 24.0), (-1.7, -0.5)), 3: ((-8.8, 50.0), (-7.1, -0.5))}

for row, top, bottom, axis_y in rows:
    ax = hyst_axes(97, 390, top, bottom, row)
    draw_loops(ax, exp_sets[row], 'black', 1.0)
    hyst_labels(243, 390, top, axis_y)

    ax = hyst_axes(429, 721, top, bottom, row)
    frame, damper = calc_sets[row]
    draw_loops(ax, frame, 'black', 1.3)
    draw_loops(ax, damper, GRAY, 1.3)
    hyst_labels(575, 721, top, axis_y)
    txt, tip = arrows[row]
    ax.annotate('制振装置', xy=tip, xytext=txt, ha='center', va='center', color=GRAY, family=JP, size=11,
                arrowprops=dict(arrowstyle='-|>', color=GRAY, lw=1.0, shrinkA=8, shrinkB=0,
                                mutation_scale=9), zorder=6)

# ---------------- time histories ----------------
# row 1
ax = time_axes(84, 167, disp_y[1], True)
series(ax, r1_disp_exp, GRAY, 1.6)
series(ax, r1_disp_calc, 'black', 1.6)
ftext(818, 89, 'Disp. [cm]', ha='left', size=11.5)
ftext(1244, 160, 'Time [sec.]', size=11.5)
add_legend(ax, 1059, 1292, 78, 97)

ax = time_axes(205, 274, temp_y[1], False)
ax.fill_between(r1_temp_exp_band[:, 0], r1_temp_exp_band[:, 1], r1_temp_exp_band[:, 2], color=GRAY, lw=0.6,
                edgecolor=GRAY, zorder=3)
series(ax, r1_temp_calc, 'black', 1.5)
ftext(816, 215, 'Temp. [℃]', ha='left', size=11.5)
ftext(1248, 264, 'Time [sec.]', size=11.5)
add_legend(ax, 982, 1190, 252, 274)

# row 2
ax = time_axes(331, 414, disp_y[2], True)
series(ax, r2_disp_exp, GRAY, 1.6)
series(ax, r2_disp_calc, 'black', 1.6)
ftext(818, 343, 'Disp. [cm]', ha='left', size=11.5)
ftext(1250, 412, 'Time [sec.]', size=11.5)
add_legend(ax, 1057, 1291, 333, 353)

ax = time_axes(461, 534, temp_y[2], False)
series(ax, r2_temp_exp, GRAY, 2.6)
series(ax, r2_temp_calc, 'black', 1.4)
ftext(816, 465, 'Temp. [℃]', ha='left', size=11.5)
ftext(1245, 520, 'Time [sec.]', size=11.5)
add_legend(ax, 977, 1186, 503, 525)

# row 3
ax = time_axes(586, 684, disp_y[3], True)
series(ax, r3_disp_exp, GRAY, 1.6)
series(ax, r3_disp_calc, 'black', 1.6)
ftext(816, 587, 'VEM-disp.', ha='left', size=11.5)
ftext(852, 606, '[cm]', size=11.5)
ftext(1250, 665, 'Time [sec.]', size=11.5)
add_legend(ax, 1074, 1291, 588, 608)

ax = time_axes(715, 790, temp_y[3], False)
series(ax, r3_temp_exp, GRAY, 2.2)
series(ax, r3_temp_calc, 'black', 1.4)
ftext(816, 718, 'Temp. [℃]', ha='left', size=11.5)
ftext(1252, 772, 'Time [sec.]', size=11.5)
add_legend(ax, 966, 1186, 762, 783)

fig.savefig('out.png', dpi=100)
